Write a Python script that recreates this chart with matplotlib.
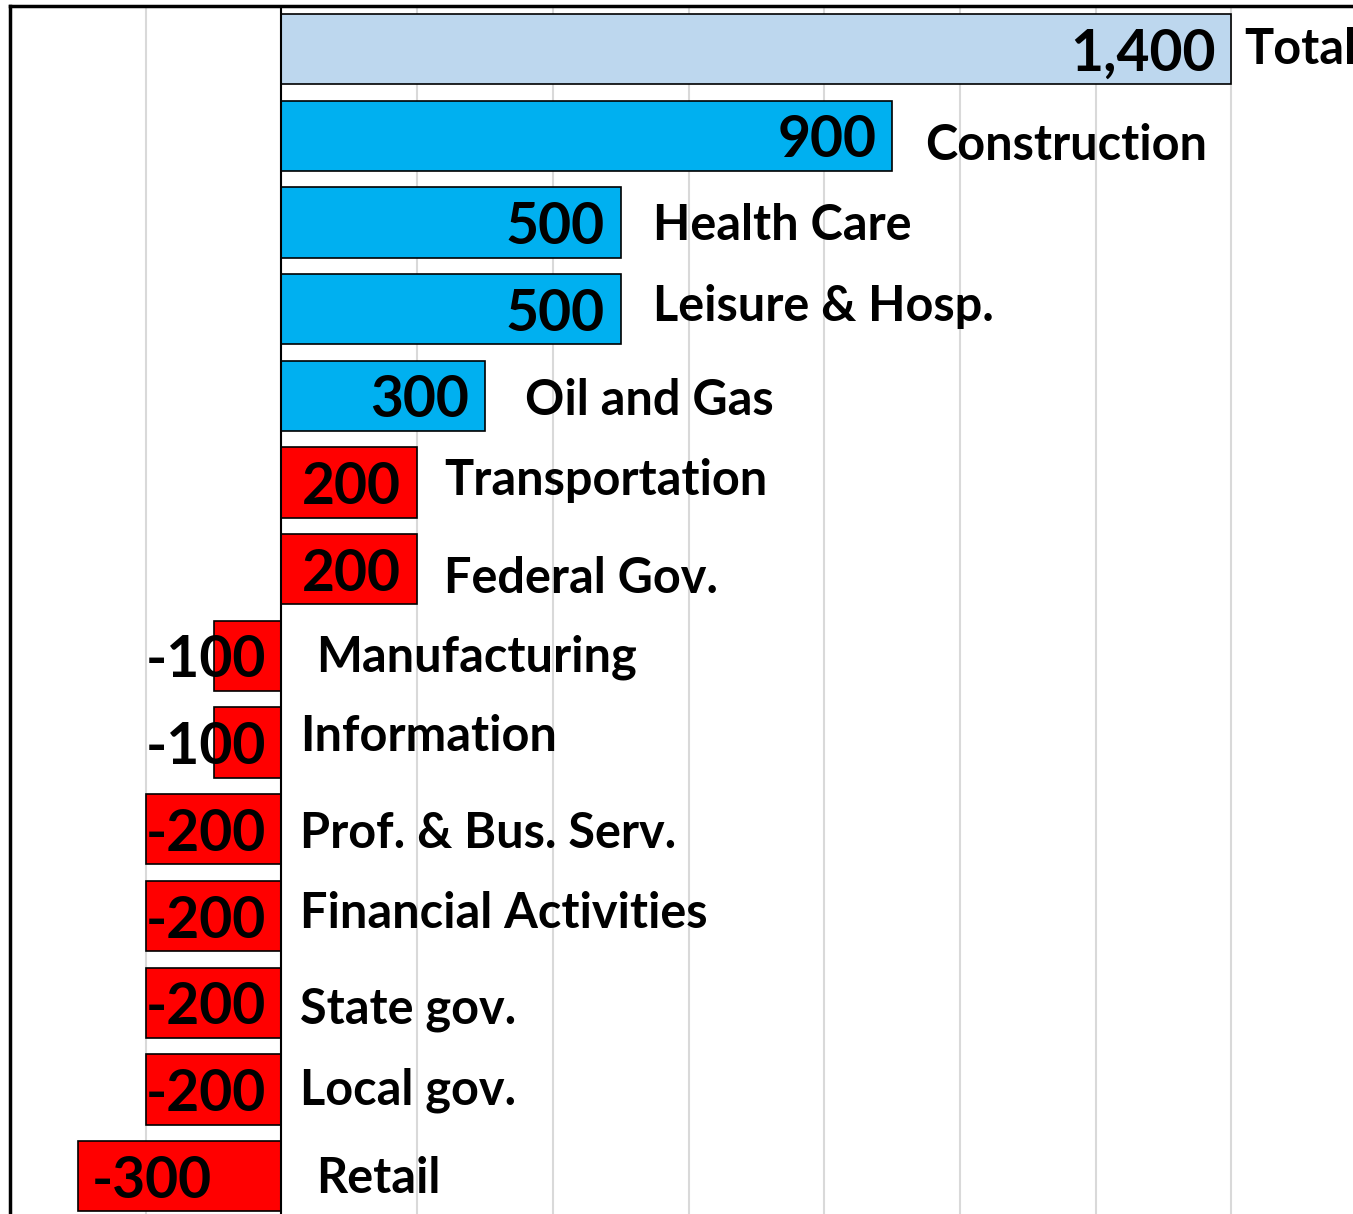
import matplotlib
matplotlib.use("Agg")
import matplotlib.pyplot as plt

categories = ["Total", "Construction", "Health Care", "Leisure & Hosp.", "Oil and Gas",
              "Transportation", "Federal Gov.", "Manufacturing", "Information",
              "Prof. & Bus. Serv.", "Financial Activities", "State gov.", "Local gov.", "Retail"]
values = [1400, 900, 500, 500, 300, 200, 200, -100, -100, -200, -200, -200, -200, -300]
value_labels = ["1,400", "900", "500", "500", "300", "200", "200",
                "-100", "-100", "-200", "-200", "-200", "-200", "-300"]
colors = ["#BDD7EE"] + ["#00B0F0"] * 4 + ["#FF0000"] * 9

# label nudges in pixels (dx from bar end, dy up)
name_dx = [13, 33, 32, 32, 40, 27, 27, 35, 19, 19, 19, 19, 19, 35]
name_dy = [0, -10, -3, 3, -5, 2, -9, -1, 6, -4, 3, -7, -1, -2]
val_dx = [-16, -16, -16, -16, -16, -16, -16, -15, -15, -15, -15, -15, -15, -70]

plt.rcParams['font.family'] = ['Lato', 'DejaVu Sans']

W, H = 1353, 1214
fig = plt.figure(figsize=(W / 100, H / 100), dpi=100)
px_per_unit = 950 / 1400
ax_w = 2000 * px_per_unit
ax_h = 14 * 86.7
ax = fig.add_axes([10 / W, (H - 5.65 - ax_h) / H, ax_w / W, ax_h / H])

y = list(range(len(categories)))
ax.barh(y, values, height=0.81, color=colors, edgecolor="black", linewidth=1.2, zorder=3)
ax.axvline(0, color="black", linewidth=1.5, zorder=4)

ax.set_xlim(-400, 1600)
ax.set_ylim(len(categories) - 0.5, -0.5)
ax.set_xticks(range(-400, 1601, 200))
ax.grid(axis="x", color="#D9D9D9", linewidth=1.5, zorder=0)
ax.tick_params(left=False, bottom=False, labelleft=False, labelbottom=False)
for s in ["right", "bottom"]:
    ax.spines[s].set_visible(False)
for s in ["left", "top"]:
    ax.spines[s].set_linewidth(2.5)

for i, (v, lab) in enumerate(zip(values, value_labels)):
    xend = max(v, 0)
    anchor = v if v > 0 else 0
    ax.annotate(lab, (anchor, i), xytext=(val_dx[i], -5), textcoords="offset pixels",
                ha="right", va="center", fontsize=41, fontweight="bold", zorder=5)
    ax.annotate(categories[i], (xend, i), xytext=(name_dx[i], name_dy[i]),
                textcoords="offset pixels", ha="left", va="center",
                fontsize=35, fontweight="bold", zorder=5, annotation_clip=False)

fig.savefig("out.png", dpi=100)
